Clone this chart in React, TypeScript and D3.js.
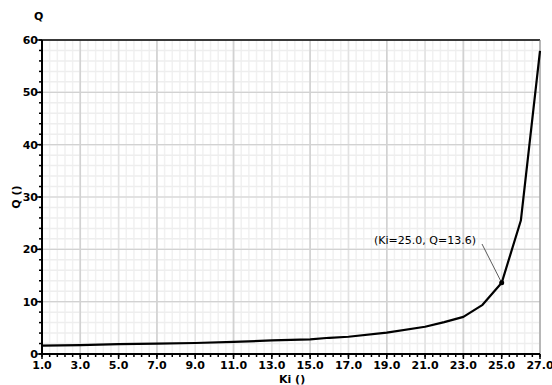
import React from "react";
import * as d3 from "d3";

const kiValues = [1, 3, 5, 7, 9, 11, 13, 15, 16, 17, 19, 21, 22, 23, 24, 25, 26, 27];
const qValues = [1.6, 1.7, 1.9, 2.0, 2.1, 2.3, 2.6, 2.8, 3.1, 3.3, 4.1, 5.2, 6.1, 7.1, 9.4, 13.6, 25.5, 57.9];
const xTickLabels = ["1.0", "3.0", "5.0", "7.0", "9.0", "11.0", "13.0", "15.0", "17.0", "19.0", "21.0", "23.0", "25.0", "27.0"];
const yTickLabels = ["0", "10", "20", "30", "40", "50", "60"];
const annotation = { ki: 25.0, q: 13.6, label: "(Ki=25.0, Q=13.6)" };

const W = 552, H = 385;
const L = 42, R = 540, T = 40, B = 354;

export default function App() {
  const x = d3.scaleLinear().domain([1, 27]).range([L, R]);
  const y = d3.scaleLinear().domain([0, 60]).range([B, T]);
  const line = d3.line<number>().x((_, i) => x(kiValues[i])).y((d) => y(d)).curve(d3.curveLinear);

  const minorX = d3.range(0, 66).map((i) => 1 + i * 0.4).filter((v) => v <= 27.001);
  const midX = d3.range(1, 28, 2);
  const majorX = [3, 7, 11, 15, 19, 23];
  const minorY = d3.range(0, 61, 2);
  const majorY = yTickLabels.map(Number);

  const font = "'DejaVu Sans', sans-serif";
  const ax = x(annotation.ki), ay = y(annotation.q);

  return (
    <svg width={W} height={H} style={{ position: "absolute", left: 0, top: 0, background: "#fff" }}>
      <rect x={0} y={0} width={W} height={H} fill="#fff" />
      {/* grid */}
      {minorX.map((v, i) => (
        <line key={"mx" + i} x1={x(v)} x2={x(v)} y1={T} y2={B} stroke="#f1f1f1" strokeWidth={1.5} />
      ))}
      {minorY.map((v, i) => (
        <line key={"my" + i} x1={L} x2={R} y1={y(v)} y2={y(v)} stroke="#eeeeee" strokeWidth={1.5} />
      ))}
      {midX.map((v, i) => (
        <line key={"dx" + i} x1={x(v)} x2={x(v)} y1={T} y2={B} stroke="#e2e2e2" strokeWidth={1.5} />
      ))}
      {majorX.map((v, i) => (
        <line key={"Mx" + i} x1={x(v)} x2={x(v)} y1={T} y2={B} stroke="#d2d2d2" strokeWidth={1.5} />
      ))}
      {majorY.map((v, i) => (
        <line key={"My" + i} x1={L} x2={R} y1={y(v)} y2={y(v)} stroke="#d2d2d2" strokeWidth={1.2} />
      ))}
      {/* frame */}
      <line x1={L} x2={R} y1={T} y2={T} stroke="#000" strokeWidth={1.5} />
      <line x1={R} x2={R} y1={T} y2={B} stroke="#888" strokeWidth={1} />
      <line x1={L} x2={L} y1={T} y2={B + 1} stroke="#000" strokeWidth={2} />
      <line x1={L - 1} x2={R} y1={B} y2={B} stroke="#000" strokeWidth={2} />
      {/* y ticks */}
      {minorY.map((v, i) => (
        <line key={"ty" + i} x1={L - 3} x2={L} y1={y(v)} y2={y(v)} stroke="#000" strokeWidth={1.5} />
      ))}
      {majorY.map((v, i) => (
        <line key={"tY" + i} x1={L - 5} x2={L} y1={y(v)} y2={y(v)} stroke="#000" strokeWidth={1.5} />
      ))}
      {yTickLabels.map((t, i) => (
        <text key={"ly" + i} x={L - 4} y={y(Number(t))} dy="0.36em" textAnchor="end"
          fontFamily={font} fontWeight="bold" fontSize={11} fill="#000">{t}</text>
      ))}
      {/* x ticks */}
      {minorX.map((v, i) => (
        <line key={"tx" + i} x1={x(v)} x2={x(v)} y1={B} y2={B + 3} stroke="#000" strokeWidth={1.5} />
      ))}
      {midX.map((v, i) => (
        <line key={"tX" + i} x1={x(v)} x2={x(v)} y1={B} y2={B + 5} stroke="#000" strokeWidth={1.5} />
      ))}
      {xTickLabels.map((t, i) => (
        <text key={"lx" + i} x={x(Number(t))} y={B + 15} textAnchor="middle"
          fontFamily={font} fontWeight="bold" fontSize={11} fill="#000">{t}</text>
      ))}
      {/* curve */}
      <path d={line(qValues) || ""} fill="none" stroke="#000" strokeWidth={2.2} strokeLinejoin="round" />
      {/* annotation */}
      <line x1={482} x2={ax} y1={244} y2={ay} stroke="#333" strokeWidth={0.8} />
      <circle cx={ax} cy={ay} r={2.5} fill="#000" />
      <text x={374} y={244} fontFamily={font} fontSize={11} fill="#000">{annotation.label}</text>
      {/* axis titles */}
      <text x={34} y={20} fontFamily={font} fontWeight="bold" fontSize={11} fill="#000">Q</text>
      <text transform={`translate(20, 197) rotate(-90)`} textAnchor="middle" fontFamily={font}
        fontWeight="bold" fontSize={11} fill="#000">Q ()</text>
      <text x={279} y={383} fontFamily={font} fontWeight="bold" fontSize={11} fill="#000">Ki ()</text>
    </svg>
  );
}
